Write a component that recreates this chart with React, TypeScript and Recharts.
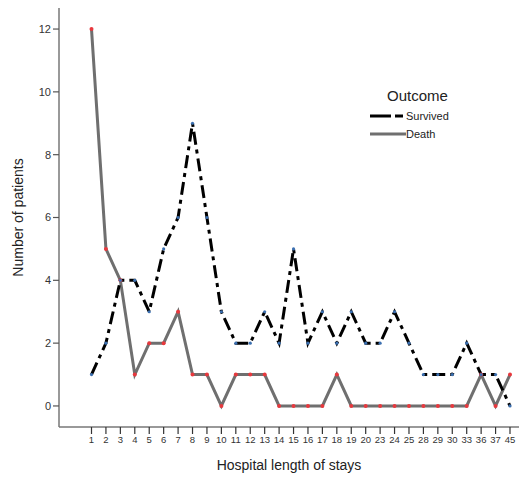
import React from 'react';
import { LineChart, Line, XAxis, YAxis } from 'recharts';

const stays = ['1', '2', '3', '4', '5', '6', '7', '8', '9', '10', '11', '12', '13', '14', '15', '16', '17', '18', '19', '20', '23', '24', '25', '28', '29', '30', '33', '36', '37', '45'];
const survived = [1, 2, 4, 4, 3, 5, 6, 9, 6, 3, 2, 2, 3, 2, 5, 2, 3, 2, 3, 2, 2, 3, 2, 1, 1, 1, 2, 1, 1, 0];
const death = [12, 5, 4, 1, 2, 2, 3, 1, 1, 0, 1, 1, 1, 0, 0, 0, 0, 1, 0, 0, 0, 0, 0, 0, 0, 0, 0, 1, 0, 1];
const yTicks = [0, 2, 4, 6, 8, 10, 12];

const data = stays.map((s, i) => ({ stay: s, survived: survived[i], death: death[i] }));

const font = 'Arial, "Liberation Sans", sans-serif';
const SURV_DASH = '13 5 4 5';

function OutcomeLegend() {
  return (
    <div style={{ position: 'absolute', left: 370, top: 88, fontFamily: font, color: '#222', lineHeight: 1 }}>
      <div style={{ fontSize: 15, marginLeft: 17, height: 19 }}>Outcome</div>
      <div style={{ display: 'flex', alignItems: 'center', fontSize: 11, height: 18 }}>
        <svg width={36} height={6}>
          <line x1={0} y1={3} x2={36} y2={3} stroke="#000" strokeWidth={3} strokeDasharray="21 4 8 4" />
        </svg>
        <span>Survived</span>
      </div>
      <div style={{ display: 'flex', alignItems: 'center', fontSize: 11, height: 18 }}>
        <svg width={36} height={6}>
          <line x1={0} y1={3} x2={36} y2={3} stroke="#6f6f6f" strokeWidth={3} />
        </svg>
        <span>Death</span>
      </div>
    </div>
  );
}

export default function App() {
  return (
    <div style={{ position: 'absolute', left: 0, top: 0, background: '#fff' }}>
      <LineChart width={519} height={489} data={data} margin={{ top: 8, right: 0, left: 0, bottom: 0 }}>
        <XAxis
          dataKey="stay"
          interval={0}
          height={62}
          padding={{ left: 32.5, right: 9 }}
          stroke="#777"
          strokeWidth={1.5}
          tickSize={7}
          tickLine={{ stroke: '#333', strokeWidth: 1.2 }}
          tick={{ fill: '#333', fontSize: 9.5, fontFamily: font }}
          label={{ value: 'Hospital length of stays', position: 'insideBottom', offset: 19, style: { fill: '#222', fontSize: 14, fontFamily: font } }}
        />
        <YAxis
          width={59}
          domain={[-0.67, 12.67]}
          ticks={yTicks}
          stroke="#777"
          strokeWidth={1.5}
          tickSize={6}
          tickLine={{ stroke: '#555', strokeWidth: 1.2 }}
          tick={{ fill: '#333', fontSize: 11, fontFamily: font }}
          label={{ value: 'Number of patients', angle: -90, position: 'insideLeft', offset: 18, style: { textAnchor: 'middle', fill: '#222', fontSize: 14, fontFamily: font } }}
        />
        <Line
          type="linear"
          dataKey="death"
          stroke="#6f6f6f"
          strokeWidth={3}
          dot={{ r: 2, fill: '#e8383d', stroke: 'none' }}
          activeDot={false}
          isAnimationActive={false}
        />
        <Line
          type="linear"
          dataKey="survived"
          stroke="#000"
          strokeWidth={3}
          strokeDasharray={SURV_DASH}
          dot={{ r: 1.6, fill: '#3b6fb0', stroke: 'none' }}
          activeDot={false}
          isAnimationActive={false}
        />
      </LineChart>
      <OutcomeLegend />
    </div>
  );
}
